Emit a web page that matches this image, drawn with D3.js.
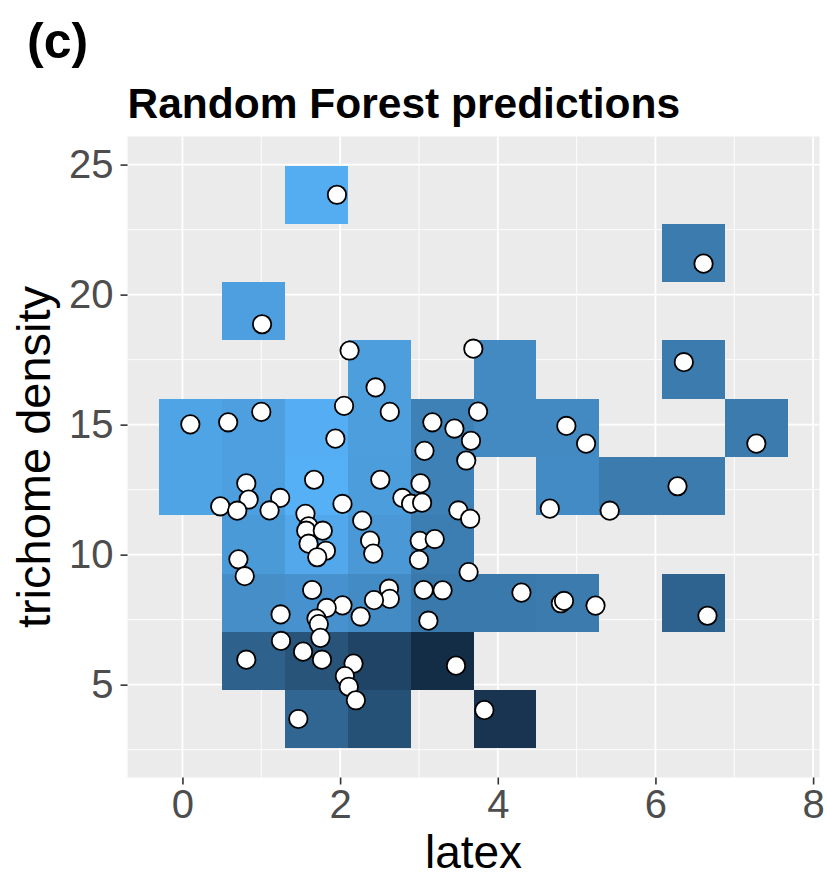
<!DOCTYPE html>
<html>
<head>
<meta charset="utf-8">
<script src="https://cdn.jsdelivr.net/npm/d3@7"></script>
<style>
  body { margin: 0; background: #fff; }
  text { font-family: "Liberation Sans", Arial, Helvetica, sans-serif; }
</style>
</head>
<body>
<div id="chart"></div>
<script>
// tile centres of the prediction grid (10 x 10)
var latexCenters = [0.101, 0.899, 1.697, 2.495, 3.293, 4.091, 4.889, 5.687, 6.485, 7.283];
var densityCenters = [3.67, 5.91, 8.15, 10.39, 12.63, 14.87, 17.12, 19.36, 21.60, 23.84];

// filled tiles: column index, row index, scaled prediction
var tileCol = [2, 8, 1, 3, 5, 8,
  0, 1, 2, 3, 4, 5, 6, 9,
  0, 1, 2, 3, 4, 6, 7, 8,
  1, 2, 3, 4,
  1, 2, 3, 4, 5, 6, 8,
  1, 2, 3, 4,
  2, 3, 5];
var tileRow = [9, 8, 7, 6, 6, 6,
  5, 5, 5, 5, 5, 5, 5, 5,
  4, 4, 4, 4, 4, 4, 4, 4,
  3, 3, 3, 3,
  2, 2, 2, 2, 2, 2, 2,
  1, 1, 1, 1,
  0, 0, 0];
var tilePred = [0.97, 0.62, 0.88, 0.87, 0.73, 0.62,
  0.91, 0.88, 0.98, 0.87, 0.67, 0.73, 0.73, 0.62,
  0.91, 0.88, 0.99, 0.86, 0.67, 0.74, 0.62, 0.62,
  0.84, 0.94, 0.83, 0.64,
  0.76, 0.79, 0.74, 0.61, 0.61, 0.62, 0.45,
  0.43, 0.33, 0.21, 0.02,
  0.47, 0.31, 0.08];

// observed points
var pointLatex = [1.96, 1.01, 2.12, 3.69, 2.45, 2.05, 2.63, 0.10, 0.58, 1.00,
  1.94, 3.17, 3.45, 3.75, 3.66, 3.07, 3.60, 6.61, 6.36, 4.87,
  5.12, 7.28, 6.28, 4.66, 5.42, 4.30, 4.80, 4.84, 5.24, 6.66,
  3.83, 2.51, 3.02, 2.79, 2.90, 3.04, 2.03, 3.50, 3.65, 2.28,
  2.38, 2.42, 3.01, 3.20, 3.00, 3.63, 2.62, 2.63, 2.43, 3.06,
  3.30, 2.03, 0.81, 0.84, 0.48, 0.695, 1.24, 1.105, 1.67, 1.56,
  1.60, 1.57, 1.78, 1.60, 1.82, 1.71, 0.71, 0.79, 1.645, 1.245,
  1.83, 1.70, 1.73, 1.75, 2.26, 3.12, 1.25, 1.53, 1.77, 0.81,
  2.17, 2.06, 2.11, 2.20, 3.47, 1.47];
var pointDensity = [23.84, 18.86, 17.85, 17.92, 16.43, 15.72, 15.49, 15.01, 15.09, 15.49,
  14.46, 15.09, 14.85, 15.50, 14.38, 13.99, 13.62, 21.19, 17.40, 14.95,
  14.27, 14.27, 12.63, 11.77, 11.69, 8.54, 8.13, 8.22, 8.04, 7.65,
  4.02, 12.88, 12.74, 12.18, 11.96, 12.00, 11.95, 11.70, 11.38, 11.31,
  10.54, 10.04, 10.53, 10.60, 9.80, 9.33, 8.69, 8.30, 8.25, 8.64,
  8.63, 8.05, 12.74, 12.12, 11.86, 11.69, 12.18, 11.70, 12.88, 11.57,
  11.09, 10.92, 10.92, 10.42, 10.15, 9.90, 9.82, 9.17, 8.64, 7.70,
  7.95, 7.54, 7.33, 6.80, 7.62, 7.46, 6.68, 6.27, 5.96, 5.96,
  5.81, 5.33, 4.92, 4.40, 5.73, 3.68];

var xTicks = [0, 2, 4, 6, 8];
var xMinor = [1, 3, 5, 7];
var yTicks = [5, 10, 15, 20, 25];
var yMinor = [2.5, 7.5, 12.5, 17.5, 22.5];

var width = 827;
var height = 879;
var panel = { left: 127.5, right: 819.5, top: 136.5, bottom: 777.5 };

var svg = d3.select("#chart")
  .append("svg")
  .attr("width", width)
  .attr("height", height);

// tile size and ggplot-like 5% expansion
var tileW = latexCenters[1] - latexCenters[0];
var tileH = densityCenters[1] - densityCenters[0];
var xLo = latexCenters[0] - tileW / 2, xHi = latexCenters[9] + tileW / 2;
var yLo = densityCenters[0] - tileH / 2, yHi = densityCenters[9] + tileH / 2;
var xPad = (xHi - xLo) * 0.05, yPad = (yHi - yLo) * 0.05;

var xScale = d3.scaleLinear()
  .domain([xLo - xPad, xHi + xPad])
  .range([panel.left, panel.right]);
var yScale = d3.scaleLinear()
  .domain([yLo - yPad, yHi + yPad])
  .range([panel.bottom, panel.top]);

var fill = d3.scaleLinear()
  .domain([0, 1])
  .range(["#132B43", "#56B1F7"])
  .interpolate(d3.interpolateLab);

// panel background
svg.append("rect")
  .attr("x", panel.left)
  .attr("y", panel.top)
  .attr("width", panel.right - panel.left)
  .attr("height", panel.bottom - panel.top)
  .attr("fill", "#EBEBEB");

// grid lines
var grid = svg.append("g");
grid.selectAll(".xminor").data(xMinor).enter().append("line")
  .attr("x1", d => xScale(d)).attr("x2", d => xScale(d))
  .attr("y1", panel.top).attr("y2", panel.bottom)
  .attr("stroke", "#fff").attr("stroke-width", 0.9);
grid.selectAll(".yminor").data(yMinor).enter().append("line")
  .attr("y1", d => yScale(d)).attr("y2", d => yScale(d))
  .attr("x1", panel.left).attr("x2", panel.right)
  .attr("stroke", "#fff").attr("stroke-width", 0.9);
grid.selectAll(".xmajor").data(xTicks).enter().append("line")
  .attr("x1", d => xScale(d)).attr("x2", d => xScale(d))
  .attr("y1", panel.top).attr("y2", panel.bottom)
  .attr("stroke", "#fff").attr("stroke-width", 1.8);
grid.selectAll(".ymajor").data(yTicks).enter().append("line")
  .attr("y1", d => yScale(d)).attr("y2", d => yScale(d))
  .attr("x1", panel.left).attr("x2", panel.right)
  .attr("stroke", "#fff").attr("stroke-width", 1.8);

// prediction tiles
var tiles = tilePred.map(function (p, i) {
  return { lx: latexCenters[tileCol[i]], dy: densityCenters[tileRow[i]], pred: p };
});
svg.append("g")
  .selectAll("rect")
  .data(tiles)
  .enter()
  .append("rect")
  .attr("x", d => xScale(d.lx - tileW / 2))
  .attr("y", d => yScale(d.dy + tileH / 2))
  .attr("width", xScale(tileW) - xScale(0))
  .attr("height", yScale(0) - yScale(tileH))
  .attr("fill", d => fill(d.pred))
  .attr("shape-rendering", "crispEdges");

// observed points
var points = pointLatex.map((v, i) => ({ x: v, y: pointDensity[i] }));
svg.append("g")
  .selectAll("circle")
  .data(points)
  .enter()
  .append("circle")
  .attr("cx", d => xScale(d.x))
  .attr("cy", d => yScale(d.y))
  .attr("r", 9.2)
  .attr("fill", "#fff")
  .attr("stroke", "#000")
  .attr("stroke-width", 1.8);

// axes
function xAxis(g) {
  g.attr("transform", `translate(0, ${panel.bottom})`)
    .call(d3.axisBottom(xScale).tickValues(xTicks).tickSize(7).tickPadding(5))
}
function yAxis(g) {
  g.attr("transform", `translate(${panel.left}, 0)`)
    .call(d3.axisLeft(yScale).tickValues(yTicks).tickSize(7).tickPadding(7))
}
var gx = svg.append("g").call(xAxis);
var gy = svg.append("g").call(yAxis);
[gx, gy].forEach(function (g) {
  g.select(".domain").remove();
  g.selectAll(".tick line").attr("stroke", "#333").attr("stroke-width", 1.6);
  g.selectAll(".tick text")
    .attr("fill", "#4D4D4D")
    .style("font-size", "40px")
    .style("font-family", '"Liberation Sans", Arial, sans-serif');
});

// titles
svg.append("text")
  .attr("x", (panel.left + panel.right) / 2)
  .attr("y", 868)
  .attr("text-anchor", "middle")
  .style("font-size", "46px")
  .text("latex");

svg.append("text")
  .attr("transform", `translate(50, ${(panel.top + panel.bottom) / 2}) rotate(-90)`)
  .attr("text-anchor", "middle")
  .style("font-size", "47px")
  .text("trichome density");

svg.append("text")
  .attr("x", panel.left)
  .attr("y", 118)
  .style("font-size", "42.5px")
  .style("font-weight", "bold")
  .text("Random Forest predictions");

svg.append("text")
  .attr("x", 27)
  .attr("y", 58)
  .style("font-size", "50px")
  .style("font-weight", "bold")
  .text("(c)");
</script>
</body>
</html>
